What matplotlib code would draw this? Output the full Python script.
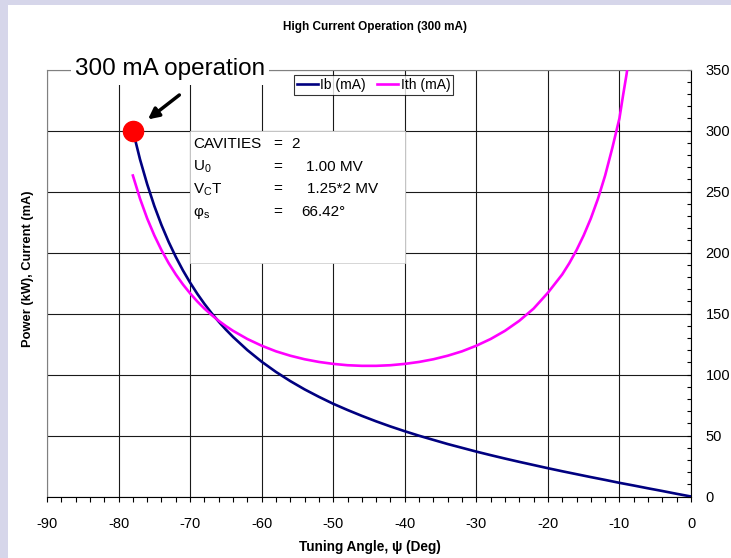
# Recreation of the "High Current Operation (300 mA)" tuning angle chart.

import numpy as np
import matplotlib as mpl
mpl.use("Agg")
import matplotlib.pyplot as plt
from matplotlib.patches import Rectangle
from matplotlib.ticker import MultipleLocator

plt.rcParams["font.family"] = ["Liberation Sans", "DejaVu Sans"]
plt.rcParams["mathtext.fontset"] = "custom"
plt.rcParams["mathtext.rm"] = "Liberation Sans"
plt.rcParams["axes.unicode_minus"] = False

# Data.
angle_ib = [-78, -77, -76, -75, -74, -73, -72, -71, -70, -69, -68, -67, -66, -65,
            -64, -62, -60, -58, -56, -54, -52, -50, -48, -46, -44, -42, -40, -38,
            -36, -34, -32, -30, -28, -26, -24, -22, -20, -18, -16, -14, -12, -10,
            -8, -6, -4, -2, 0]
ib_ma = [300, 276.3, 256, 238.1, 222.5, 208.7, 196.4, 185.3, 175.3, 166.2, 157.9,
         150.3, 143.3, 136.8, 130.8, 120.0, 110.5, 102.1, 94.6, 87.8, 81.7, 76.0,
         70.9, 66.1, 61.6, 57.4, 53.5, 49.8, 46.4, 43.0, 39.9, 36.8, 33.9, 31.1,
         28.4, 25.8, 23.2, 20.7, 18.3, 15.9, 13.6, 11.2, 9.0, 6.7, 4.5, 2.2, 0]

angle_ith = [-78, -77, -76, -75, -74, -73, -72, -71, -70, -69, -68, -67, -66, -65,
             -64, -62, -60, -58, -56, -54, -52, -50, -48, -46, -44, -42, -40, -38,
             -36, -34, -32, -30, -28, -26, -24, -22, -20, -19, -18, -17, -16, -15,
             -14, -13, -12, -11, -10, -9.5, -9, -8]
ith_ma = [263.1, 244.1, 227.9, 214.0, 201.9, 191.3, 182.0, 173.8, 166.5, 159.9,
          154.0, 148.8, 144.0, 139.7, 135.8, 129.1, 123.6, 119.0, 115.4, 112.5,
          110.3, 108.7, 107.6, 107.1, 107.1, 107.6, 108.7, 110.3, 112.5, 115.4,
          119.0, 123.6, 129.1, 135.8, 144.0, 154.0, 167.0, 174.5, 182.0, 191.3,
          201.9, 214.0, 227.9, 244.1, 263.1, 285.6, 310.0, 328.6, 346.3, 388.0]

op_angle = [-78]
op_current = [300]

x_ticks = list(range(-90, 1, 10))
y_ticks = list(range(0, 351, 50))

# Figure with slide-like background.
fig = plt.figure(figsize=(7.31, 5.58), dpi=100, facecolor="#d6d6ea")
fig.patches.append(Rectangle((8 / 731, 0), 1, 1 - 5 / 558, transform=fig.transFigure,
                             facecolor="white", edgecolor="none", zorder=-10))

ax = fig.add_axes([47 / 731, 1 - 496.5 / 558, 644 / 731, 427 / 558])
ax.set_zorder(1)
ax.set_axisbelow(True)

ax.plot(angle_ib, ib_ma, color="#000080", lw=1.9, label="Ib (mA)", zorder=3)
ax.plot(angle_ith, ith_ma, color="#ff00ff", lw=1.9, label="Ith (mA)", zorder=3)
ax.plot(op_angle, op_current, "o", color="#ff0000", ms=14.5, zorder=5, clip_on=False)

ax.set_xlim(-90, 0)
ax.set_ylim(0, 350)
ax.set_xticks(x_ticks)
ax.set_yticks(y_ticks)
ax.xaxis.set_minor_locator(MultipleLocator(2))
ax.yaxis.set_minor_locator(MultipleLocator(10))
ax.yaxis.tick_right()
ax.tick_params(axis="y", which="both", direction="in", length=3, width=0.8,
               labelsize=10.5, pad=10.5)
ax.tick_params(axis="x", which="both", direction="out", length=3.5, width=0.8,
               labelsize=10.5, pad=11)
ax.grid(True, which="major", color="#1a1a1a", lw=0.8)

for side in ["left", "top"]:
  ax.spines[side].set_color("#808080")
for side in ["right", "bottom"]:
  ax.spines[side].set_color("black")

# White info box hiding the grid.
ax.add_patch(Rectangle((-70, 191), 30, 109, facecolor="white",
                       edgecolor="#d0d0d0", lw=0.6, zorder=1))
fs = 11
rows = [("CAVITIES", "2", -55.9, 285.4),
        (r"U$\mathregular{_0}$", "1.00 MV", -53.8, 266.8),
        (r"V$\mathregular{_C}$T", "1.25*2 MV", -53.7, 248.5),
        (r"φ$\mathregular{_s}$", "66.42°", -54.4, 229.9)]
for label, value, vx, y in rows:
  ax.text(-69.6, y, label, fontsize=fs, va="baseline", zorder=2)
  ax.text(-58.4, y, "=", fontsize=fs, va="baseline", zorder=2)
  ax.text(vx, y, value, fontsize=fs, va="baseline", zorder=2)

# Operating point callout.
ax.text(-72.8, 350, "300 mA operation", fontsize=17.5, ha="center", va="center",
        bbox=dict(facecolor="white", edgecolor="none", pad=3), zorder=6,
        clip_on=False)
ax.annotate("", xy=(-76.2, 307.7), xytext=(-71.2, 330.5),
            arrowprops=dict(arrowstyle="-|>", lw=2.5, color="black",
                            mutation_scale=16), zorder=6)

leg = ax.legend(loc="upper left", bbox_to_anchor=(0.3835, 0.987), ncol=2,
                fontsize=10, frameon=True, fancybox=False, borderpad=0.2,
                handlelength=1.5, handletextpad=0.2, columnspacing=0.8,
                borderaxespad=0)
leg.get_frame().set_edgecolor("black")
leg.get_frame().set_linewidth(0.8)
leg.set_zorder(7)

fig.text(375 / 731, 1 - 27 / 558, "High Current Operation (300 mA)",
         fontsize=8.5, fontweight="bold", ha="center", va="center")
fig.text(28 / 731, 1 - 269 / 558, "Power (kW), Current (mA)", fontsize=9.3,
         fontweight="bold", rotation=90, ha="center", va="center")
fig.text(370 / 731, 1 - 547 / 558, "Tuning Angle, ψ (Deg)", fontsize=9.8,
         fontweight="bold", ha="center", va="center")

fig.savefig("out.png", dpi=100, facecolor=fig.get_facecolor())
